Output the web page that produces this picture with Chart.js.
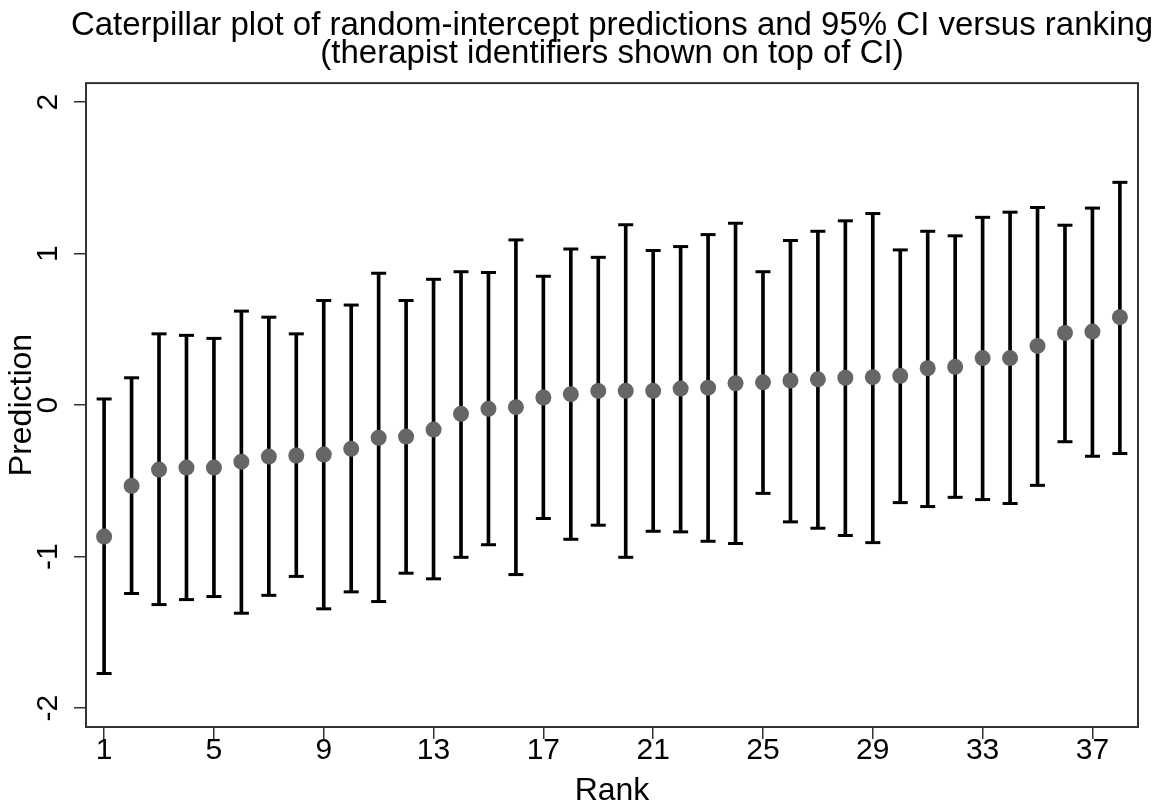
<!DOCTYPE html>
<html>
<head>
<meta charset="utf-8">
<title>Caterpillar plot</title>
<script src="https://cdn.jsdelivr.net/npm/chart.js@4.4.1/dist/chart.umd.min.js"></script>
<style>
  html, body { margin: 0; padding: 0; background: #fff; }
  #wrap { width: 1163px; height: 804px; position: relative; }
</style>
</head>
<body>
<div id="wrap"><canvas id="chart"></canvas></div>
<script>
// Rank of each therapist (x axis)
const ranks = [1, 2, 3, 4, 5, 6, 7, 8, 9, 10, 11, 12, 13, 14, 15, 16, 17, 18, 19,
               20, 21, 22, 23, 24, 25, 26, 27, 28, 29, 30, 31, 32, 33, 34, 35, 36, 37, 38];

// Random-intercept predictions
const prediction = [-0.868, -0.533, -0.426, -0.413, -0.413, -0.374, -0.340, -0.333, -0.327, -0.289,
                    -0.216, -0.208, -0.162, -0.058, -0.025, -0.014, 0.050, 0.072, 0.093, 0.094,
                    0.094, 0.109, 0.115, 0.144, 0.150, 0.162, 0.170, 0.180, 0.184, 0.193,
                    0.243, 0.252, 0.310, 0.310, 0.390, 0.476, 0.485, 0.580];

// 95% CI bounds
const ciLower = [-1.772, -1.244, -1.317, -1.284, -1.264, -1.374, -1.256, -1.131, -1.345, -1.233,
                 -1.297, -1.110, -1.147, -1.005, -0.922, -1.119, -0.749, -0.886, -0.793, -1.005,
                 -0.833, -0.837, -0.899, -0.914, -0.583, -0.771, -0.813, -0.861, -0.908, -0.644,
                 -0.670, -0.609, -0.624, -0.650, -0.530, -0.242, -0.338, -0.320];
const ciUpper = [0.04, 0.18, 0.47, 0.46, 0.44, 0.62, 0.58, 0.47, 0.69, 0.66,
                 0.87, 0.69, 0.83, 0.88, 0.875, 1.09, 0.85, 1.03, 0.975, 1.19,
                 1.02, 1.046, 1.125, 1.20, 0.88, 1.086, 1.147, 1.216, 1.264, 1.024,
                 1.147, 1.117, 1.239, 1.273, 1.304, 1.187, 1.30, 1.47];

// Tick labels
const xTicks = [1, 5, 9, 13, 17, 21, 25, 29, 33, 37];
const yTicks = [-2, -1, 0, 1, 2];

Chart.defaults.font.family = '"Liberation Sans", Arial, sans-serif';
Chart.defaults.color = '#000';

// рамка вокруг области графика + заголовок по центру области графика
const frame = {
    id: 'frame',
    afterLayout(chart) {
        const t = chart.titleBlock;
        if (t) {
            const shift = (chart.chartArea.left + chart.chartArea.right) / 2 - (t.left + t.right) / 2;
            t.left += shift;
            t.right += shift;
        }
    },
    afterDraw(chart) {
        const a = chart.chartArea;
        const ctx = chart.ctx;
        ctx.save();
        ctx.strokeStyle = '#333';
        ctx.lineWidth = 2;
        ctx.strokeRect(a.left, a.top, a.right - a.left, a.bottom - a.top);
        ctx.restore();
    }
};

const ctx = document.getElementById('chart').getContext('2d');
new Chart(ctx, {
    type: 'bar',
    data: {
        datasets: [
            {
                type: 'scatter',
                label: 'Prediction',
                data: ranks.map((r, i) => ({ x: r, y: prediction[i] })),
                pointRadius: 8,
                pointBackgroundColor: '#666666',
                pointBorderWidth: 0
            },
            {
                type: 'scatter',
                label: 'Upper',
                data: ranks.map((r, i) => ({ x: r, y: ciUpper[i] })),
                pointStyle: 'line',
                pointRadius: 7.5,
                pointBorderWidth: 3,
                pointBorderColor: '#000'
            },
            {
                type: 'scatter',
                label: 'Lower',
                data: ranks.map((r, i) => ({ x: r, y: ciLower[i] })),
                pointStyle: 'line',
                pointRadius: 7.5,
                pointBorderWidth: 3,
                pointBorderColor: '#000'
            },
            {
                type: 'bar',
                label: 'CI',
                data: ranks.map((r, i) => ({ x: r, y: [ciLower[i], ciUpper[i]] })),
                backgroundColor: '#000',
                borderWidth: 0,
                barThickness: 3,
                grouped: false
            }
        ]
    },
    options: {
        responsive: true,
        maintainAspectRatio: false,
        animation: false,
        events: [],
        layout: { padding: { left: 0, right: 25, top: 0, bottom: 0 } },
        plugins: {
            legend: { display: false },
            tooltip: { enabled: false },
            title: {
                display: true,
                text: ['Caterpillar plot of random-intercept predictions and 95% CI versus ranking',
                       '(therapist identifiers shown on top of CI)'],
                color: '#000',
                font: { size: 33, weight: 'normal', lineHeight: 0.85 },
                padding: { top: 11.5, bottom: 15.5 }
            }
        },
        scales: {
            x: {
                type: 'linear',
                min: 0.34,
                max: 38.66,
                offset: false,
                afterBuildTicks: axis => { axis.ticks = xTicks.map(v => ({ value: v })); },
                afterFit: axis => { axis.height = 77; },
                grid: { drawOnChartArea: false, drawTicks: true, tickLength: 12, color: '#333', lineWidth: 1.5, offset: false },
                border: { display: false },
                ticks: { font: { size: 30, lineHeight: 1.0 }, color: '#000', padding: -3, autoSkip: false, maxRotation: 0 },
                title: { display: true, text: 'Rank', color: '#000', font: { size: 32, lineHeight: 0.8 }, padding: 0 }
            },
            y: {
                min: -2.125,
                max: 2.125,
                afterBuildTicks: axis => { axis.ticks = yTicks.map(v => ({ value: v })); },
                afterFit: axis => { axis.width = 86; },
                grid: { drawOnChartArea: false, drawTicks: true, tickLength: 12, color: '#333', lineWidth: 1.5 },
                border: { display: false },
                ticks: { font: { size: 30, lineHeight: 1.0 }, color: '#000', padding: 11.5, minRotation: 90, maxRotation: 90, crossAlign: 'center' },
                title: { display: true, text: 'Prediction', color: '#000', font: { size: 32, lineHeight: 1.2 }, padding: { top: 3, bottom: 0 } }
            }
        }
    },
    plugins: [frame]
});
</script>
</body>
</html>
